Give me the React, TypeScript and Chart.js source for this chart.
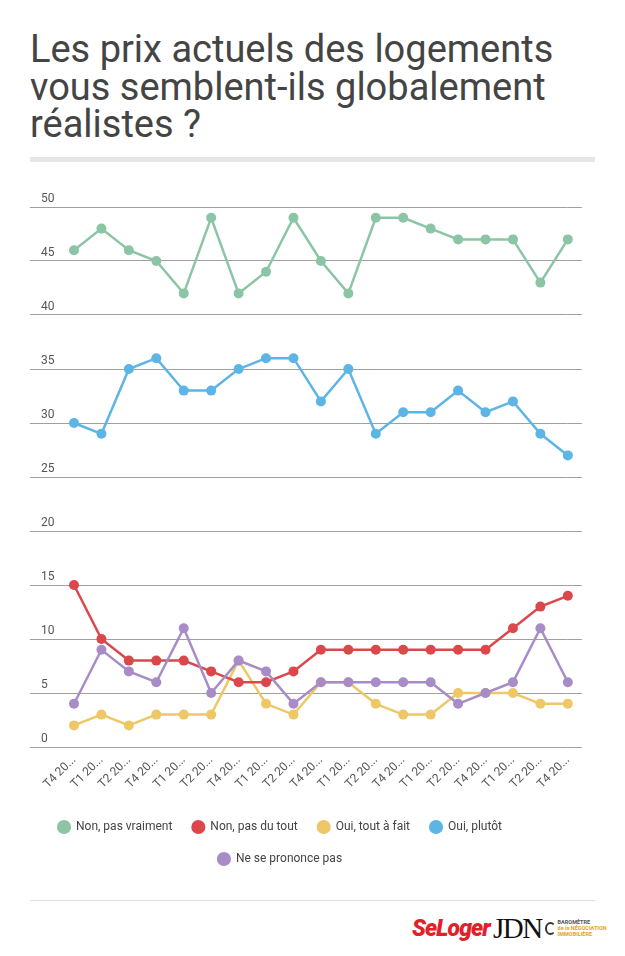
import React, { useEffect, useRef } from "react";
import { Chart, registerables } from "chart.js";

Chart.register(...registerables);

const categories = [
  "T4 20...", "T1 20...", "T2 20...", "T4 20...", "T1 20...", "T2 20...",
  "T4 20...", "T1 20...", "T2 20...", "T4 20...", "T1 20...", "T2 20...",
  "T4 20...", "T1 20...", "T2 20...", "T4 20...", "T1 20...", "T2 20...",
  "T4 20...",
];

const nonPasVraiment = [46, 48, 46, 45, 42, 49, 42, 44, 49, 45, 42, 49, 49, 48, 47, 47, 47, 43, 47];
const nonPasDuTout = [15, 10, 8, 8, 8, 7, 6, 6, 7, 9, 9, 9, 9, 9, 9, 9, 11, 13, 14];
const ouiToutAFait = [2, 3, 2, 3, 3, 3, 8, 4, 3, 6, 6, 4, 3, 3, 5, 5, 5, 4, 4];
const ouiPlutot = [30, 29, 35, 36, 33, 33, 35, 36, 36, 32, 35, 29, 31, 31, 33, 31, 32, 29, 27];
const nePrononcePas = [4, 9, 7, 6, 11, 5, 8, 7, 4, 6, 6, 6, 6, 6, 4, 5, 6, 11, 6];

const seriesNames = ["Non, pas vraiment", "Non, pas du tout", "Oui, tout à fait", "Oui, plutôt", "Ne se prononce pas"];
const seriesColors = ["#8cc5a6", "#db474b", "#eec866", "#5db5e5", "#a78cc7"];
const yTicks = [0, 5, 10, 15, 20, 25, 30, 35, 40, 45, 50];

const title = "Les prix actuels des logements vous semblent-ils globalement réalistes ?";

function LineChart() {
  const ref = useRef<HTMLCanvasElement | null>(null);
  useEffect(() => {
    if (!ref.current) return;
    const values = [nonPasVraiment, nonPasDuTout, ouiToutAFait, ouiPlutot, nePrononcePas];
    const chart = new Chart(ref.current, {
      type: "line",
      data: {
        labels: categories,
        datasets: values.map((v, i) => ({
          label: seriesNames[i],
          data: v,
          borderColor: seriesColors[i],
          backgroundColor: seriesColors[i],
          pointBackgroundColor: seriesColors[i],
          pointBorderWidth: 0,
          pointRadius: 5,
          pointHoverRadius: 5,
          borderWidth: 2.5,
          tension: 0,
          fill: false,
          clip: false as any,
          order: i === 4 ? -1 : i,
        })),
      },
      options: {
        animation: false,
        responsive: true,
        maintainAspectRatio: false,
        events: [],
        layout: { padding: { top: 22, bottom: 15, left: 0, right: 0 } },
        plugins: {
          tooltip: { enabled: false },
          legend: {
            position: "bottom",
            labels: {
              usePointStyle: true,
              pointStyle: "circle",
              boxWidth: 14,
              boxHeight: 10,
              padding: 20,
              color: "#444",
              font: { family: "Roboto", size: 12 },
              sort: (a: any, b: any) => a.datasetIndex - b.datasetIndex,
            },
          },
        },
        scales: {
          x: {
            grid: { display: false, drawTicks: false },
            border: { display: false },
            ticks: {
              autoSkip: false,
              minRotation: 45,
              maxRotation: 45,
              color: "#555",
              font: { family: "Roboto", size: 12 },
              padding: 6,
            },
            afterFit: (s: any) => { s.height = 54; },
          },
          y: {
            min: 0,
            max: 50,
            afterBuildTicks: (s: any) => { s.ticks = yTicks.map((v) => ({ value: v })); },
            ticks: {
              mirror: true,
              padding: -33,
              labelOffset: -8,
              color: "#555",
              font: { family: "Roboto", size: 12 },
            },
            grid: { color: "#a0a0a0", lineWidth: 1, drawTicks: true, tickLength: 44 },
            border: { display: false },
            afterFit: (s: any) => { s.width = 98; },
          },
          y2: {
            position: "right",
            min: 0,
            max: 50,
            afterBuildTicks: (s: any) => { s.ticks = yTicks.map((v) => ({ value: v })); },
            ticks: { display: false },
            grid: { color: "#a0a0a0", lineWidth: 1, drawOnChartArea: false, drawTicks: true, tickLength: 14 },
            border: { display: false },
            afterFit: (s: any) => { s.width = 14; },
          },
        },
      } as any,
    });
    return () => chart.destroy();
  }, []);
  return <canvas ref={ref} />;
}

export default function App() {
  return (
    <div style={{ position: "absolute", left: 0, top: 0, width: 625, height: 956, background: "#fff", fontFamily: "Roboto, sans-serif", overflow: "hidden" }}>
      <div
        style={{
          position: "absolute",
          left: 30,
          top: 31,
          width: 570,
          fontSize: 38,
          lineHeight: "37.5px",
          color: "#444",
          fontWeight: 400,
        }}
      >
        {title}
      </div>
      <div style={{ position: "absolute", left: 30, top: 157, width: 565, height: 5, background: "#e6e6e6" }} />
      <div style={{ position: "absolute", left: -24, top: 185, width: 608, height: 705 }}>
        <LineChart />
      </div>
      <div style={{ position: "absolute", left: 30, top: 900, width: 565, height: 1, background: "#ddd" }} />
      <div style={{ position: "absolute", left: 412, top: 913, height: 30, display: "flex", alignItems: "center", whiteSpace: "nowrap" }}>
        <span style={{ fontFamily: "Roboto", fontWeight: 900, fontStyle: "italic", fontSize: 23, color: "#e3202a", letterSpacing: -0.9 }}>SeLoger</span>
        <span style={{ fontFamily: "'Liberation Serif', serif", fontSize: 29, color: "#111", marginLeft: 3, letterSpacing: -1.5 }}>JDN</span>
        <span style={{ display: "inline-flex", alignItems: "center", marginLeft: 3 }}>
          <span style={{ display: "inline-block", width: 11, height: 13, border: "2px solid #333", borderRight: "2px solid transparent", borderRadius: "50%", boxSizing: "border-box" }} />
          <span style={{ display: "inline-flex", flexDirection: "column", fontSize: 5.5, lineHeight: "6px", fontWeight: 700, marginLeft: 2 }}>
            <span style={{ color: "#555" }}>BAROMÈTRE</span>
            <span style={{ color: "#e8a21b" }}>de la NÉGOCIATION</span>
            <span style={{ color: "#e8a21b" }}>IMMOBILIÈRE</span>
          </span>
        </span>
      </div>
    </div>
  );
}
